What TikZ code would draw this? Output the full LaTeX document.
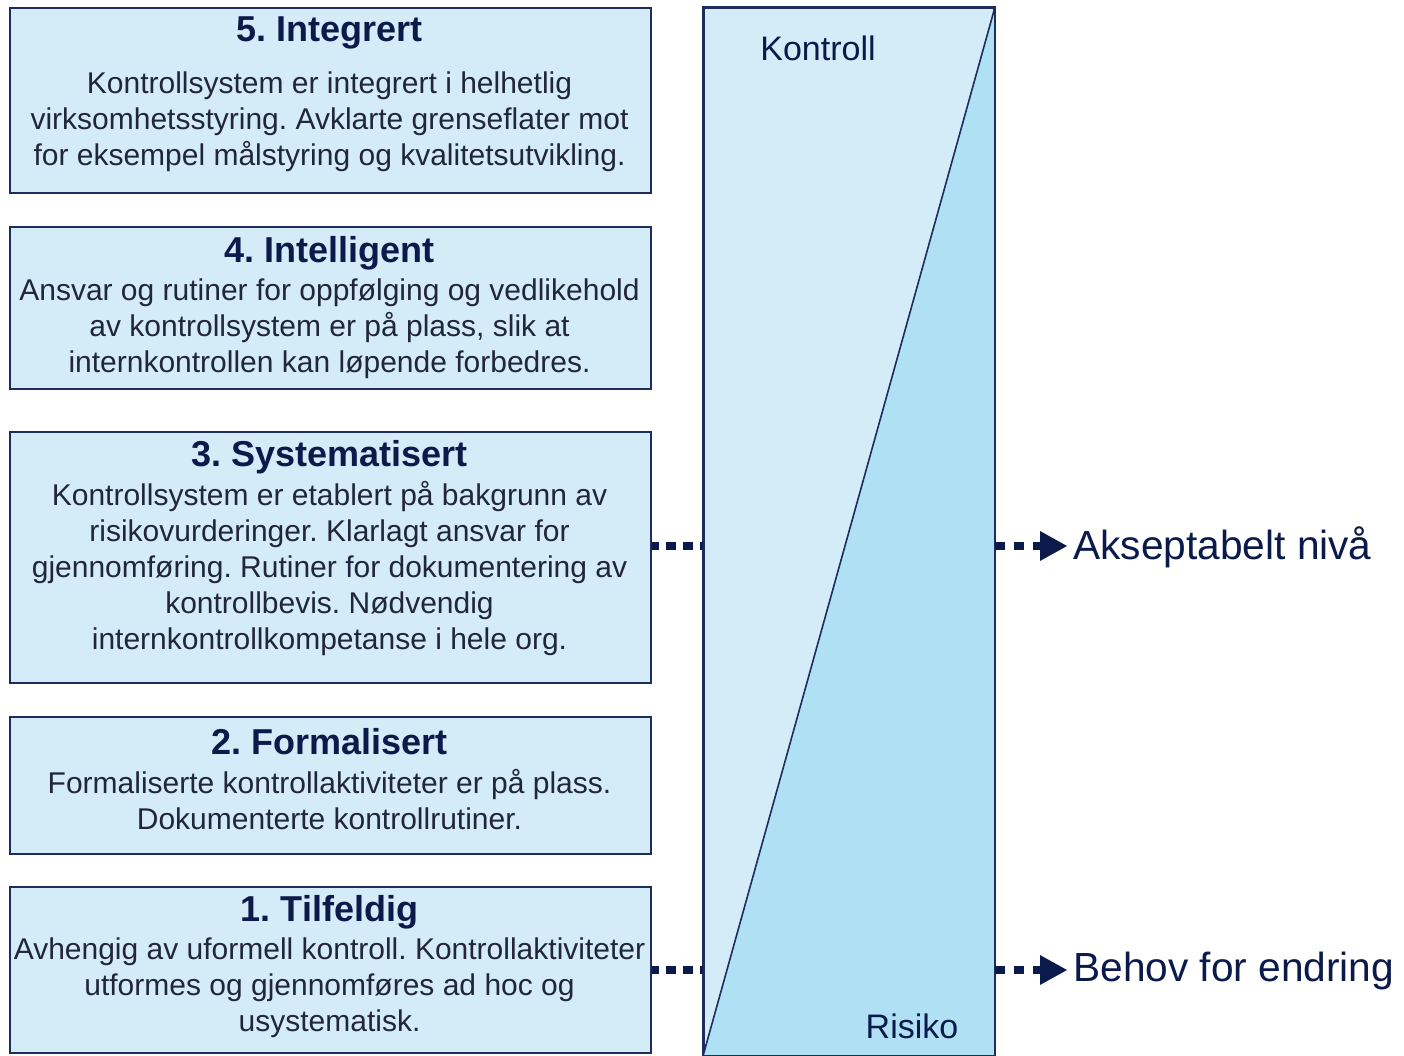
\documentclass[tikz,border=0pt]{standalone}
\usepackage{fontspec}
\setmainfont{Liberation Sans}
\usetikzlibrary{arrows.meta}
\definecolor{boxfill}{HTML}{D4ECF8}
\definecolor{riskfill}{HTML}{B0E0F4}
\definecolor{navy}{HTML}{1F2D5E}
\definecolor{ink}{HTML}{0A1A4A}
\definecolor{bodyink}{HTML}{22263C}
\frenchspacing
\begin{document}
\begin{tikzpicture}[x=0.75pt,y=-0.75pt,
  levelbox/.style={draw=navy, line width=1.5pt, fill=boxfill, minimum width=480.75pt, anchor=north west, inner sep=0pt},
  titletext/.style={font=\bfseries\fontsize{27}{32}\selectfont, text=ink, inner sep=0pt},
  bodytext/.style={font=\fontsize{22.5}{27}\selectfont, text=bodyink, align=center, inner sep=0pt},
  sidetext/.style={font=\fontsize{25.5}{30}\selectfont, text=ink, inner sep=0pt},
  righttext/.style={font=\fontsize{30.5}{35}\selectfont, text=ink, inner sep=0pt, anchor=west},
  dotline/.style={draw=ink, line width=6.5pt, dash pattern=on 7.5pt off 5.25pt, dash phase=2.25pt},
  dasharrow/.style={draw=ink, line width=6pt, dash pattern=on 7.5pt off 6.75pt},
]
\useasboundingbox (0,0) rectangle (1404,1056);

% level boxes
\node[levelbox, minimum height=138.75pt] (b5) at (9,7) {};
\node[levelbox, minimum height=121.5pt] (b4) at (9,226) {};
\node[levelbox, minimum height=188.25pt] (b3) at (9,431) {};
\node[levelbox, minimum height=102.75pt] (b2) at (9,716) {};
\node[levelbox, minimum height=124.5pt] (b1) at (9,886) {};

\node[titletext] (t5) at (329.5,33) {5. Integrert};
\node[bodytext] (d5) at (329.5,122) {Kontrollsystem er integrert i helhetlig\\virksomhetsstyring. Avklarte grenseflater mot\\for eksempel målstyring og kvalitetsutvikling.};

\node[titletext] (t4) at (329.5,253) {4. Intelligent};
\node[bodytext] (d4) at (329.5,329) {Ansvar og rutiner for oppfølging og vedlikehold\\av kontrollsystem er på plass, slik at\\internkontrollen kan løpende forbedres.};

\node[titletext] (t3) at (329.5,457) {3. Systematisert};
\node[bodytext] (d3) at (329.5,569) {Kontrollsystem er etablert på bakgrunn av\\risikovurderinger. Klarlagt ansvar for\\gjennomføring. Rutiner for dokumentering av\\kontrollbevis. Nødvendig\\internkontrollkompetanse i hele org.};

\node[titletext] (t2) at (329.5,742) {2. Formalisert};
\node[bodytext] (d2) at (329.5,800) {Formaliserte kontrollaktiviteter er på plass.\\Dokumenterte kontrollrutiner.};

\node[titletext] (t1) at (329.5,912) {1. Tilfeldig};
\node[bodytext] (d1) at (329.5,987.5) {Avhengig av uformell kontroll. Kontrollaktiviteter\\utformes og gjennomføres ad hoc og\\usystematisk.};

% tall control/risk rectangle
\node[draw=navy, line width=1.5pt, fill=boxfill, minimum width=217.5pt, minimum height=785.25pt, anchor=north west, inner sep=0pt] (rect) at (703,7) {};
\fill[riskfill] (rect.south west) -- (rect.north east) -- (rect.south east) -- cycle;
\draw[navy, line width=1.2pt] (rect.south west) -- (rect.north east);
\draw[navy, line width=1.5pt] (rect.north west) rectangle (rect.south east);

\node[sidetext] (kontroll) at (818,48) {Kontroll};
\node[sidetext] (risiko) at (912,1026) {Risiko};

% level markers
\coordinate (lvlA) at (0,546);
\coordinate (lvlB) at (0,970);
\draw[dotline] (b3.east |- lvlA) -- (rect.west |- lvlA);
\draw[dotline] (b1.east |- lvlB) -- (rect.west |- lvlB);

\node[righttext] (aks) at (1073,547) {Akseptabelt nivå};
\node[righttext] (beh) at (1073,971) {Behov for endring};

\coordinate (tipA) at (1067,546);
\coordinate (tipB) at (1067,970);
\draw[dasharrow] (rect.east |- lvlA) -- (1040,546);
\draw[dasharrow] (rect.east |- lvlB) -- (1040,970);
\fill[ink] (1040,531) -- (tipA) -- (1040,561) -- cycle;
\fill[ink] (1040,955) -- (tipB) -- (1040,985) -- cycle;
\end{tikzpicture}
\end{document}
